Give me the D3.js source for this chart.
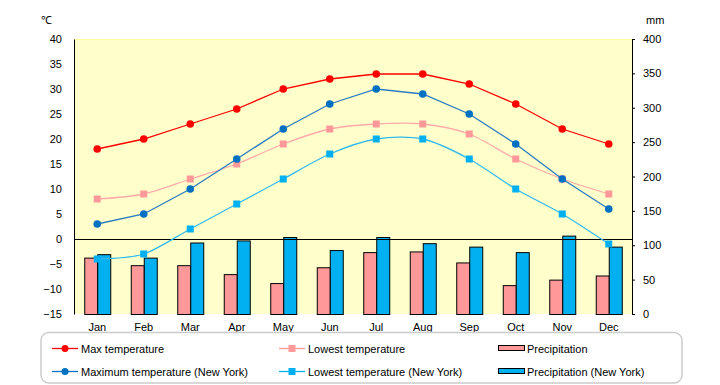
<!DOCTYPE html>
<html>
<head>
<meta charset="utf-8">
<script src="https://cdn.jsdelivr.net/npm/d3@7"></script>
<style>
  body { margin: 0; background: #fff; }
  text { font-family: "Liberation Sans", Arial, sans-serif; font-size: 11px; fill: #000; }
</style>
</head>
<body>
<div id="chart"></div>
<script>
// --------------------------------------
//  Data
// --------------------------------------

const months = ["Jan", "Feb", "Mar", "Apr", "May", "Jun", "Jul", "Aug", "Sep", "Oct", "Nov", "Dec"];

const maxTemp = [18, 20, 23, 26, 30, 32, 33, 33, 31, 27, 22, 19];
const lowTemp = [8, 9, 12, 15, 19, 22, 23, 23, 21, 16, 12, 9];
const maxTempNY = [3, 5, 10, 16, 22, 27, 30, 29, 25, 19, 12, 6];
const lowTempNY = [-4, -3, 2, 7, 12, 17, 20, 20, 16, 10, 5, -1];

const precip = [82, 71, 71, 58, 45, 68, 90, 91, 75, 42, 50, 56];
const precipNY = [87, 82, 104, 107, 112, 93, 112, 103, 98, 90, 114, 98];

const tempTicks = [-15, -10, -5, 0, 5, 10, 15, 20, 25, 30, 35, 40];
const mmTicks = [0, 50, 100, 150, 200, 250, 300, 350, 400];

// --------------------------------------
//  Canvas
// --------------------------------------

const width = 720;
const height = 385;
const plot = {left: 74, right: 632, top: 39, bottom: 314};

const svg = d3.select("#chart")
  .append("svg")
    .attr("width", width)
    .attr("height", height);

// --------------------------------------
//  Scales
// --------------------------------------

const x = d3.scaleBand()
    .domain(months)
    .range([plot.left, plot.right]);

const yT = d3.scaleLinear()
    .domain([-15, 40])
    .range([plot.bottom, plot.top]);

const yP = d3.scaleLinear()
    .domain([0, 400])
    .range([plot.bottom, plot.top]);

const cx = m => x(m) + x.bandwidth() / 2;

// plot background
svg.append("rect")
    .attr("x", plot.left)
    .attr("y", plot.top)
    .attr("width", plot.right - plot.left)
    .attr("height", plot.bottom - plot.top)
    .attr("fill", "#ffffcc");

svg.append("line")
    .attr("x1", plot.left).attr("x2", plot.right)
    .attr("y1", plot.top + 0.5).attr("y2", plot.top + 0.5)
    .attr("stroke", "#ffff99");

// --------------------------------------
//  Bars
// --------------------------------------

const barW = 13;

svg.selectAll(".bar-p")
  .data(months)
  .join("rect")
    .attr("class", "bar-p")
    .attr("x", m => cx(m) - barW + 0.5)
    .attr("y", (m, i) => yP(precip[i]) + 0.5)
    .attr("width", barW)
    .attr("height", (m, i) => plot.bottom - yP(precip[i]))
    .attr("fill", "#ff9999")
    .attr("stroke", "#000");

svg.selectAll(".bar-ny")
  .data(months)
  .join("rect")
    .attr("class", "bar-ny")
    .attr("x", m => cx(m) + 0.5)
    .attr("y", (m, i) => yP(precipNY[i]) + 0.5)
    .attr("width", barW)
    .attr("height", (m, i) => plot.bottom - yP(precipNY[i]))
    .attr("fill", "#00b0f0")
    .attr("stroke", "#000");

// zero line
svg.append("line")
    .attr("x1", plot.left).attr("x2", plot.right)
    .attr("y1", Math.round(yT(0)) + 0.5).attr("y2", Math.round(yT(0)) + 0.5)
    .attr("stroke", "#000");

// --------------------------------------
//  Axes
// --------------------------------------

svg.append("g")
    .attr("transform", `translate(${plot.left}, 0)`)
    .call(d3.axisLeft(yT).tickValues(tempTicks).tickSize(0).tickPadding(12).tickFormat(d3.format("d")))
    .call(g => g.select(".domain").attr("stroke", "#000"))
    .call(g => g.selectAll("text").attr("font-size", 11).attr("font-family", null));

svg.append("g")
    .attr("transform", `translate(${plot.right}, 0)`)
    .call(d3.axisRight(yP).tickValues(mmTicks).tickSize(3).tickPadding(8))
    .call(g => g.select(".domain").attr("stroke", "#000"))
    .call(g => g.selectAll("text").attr("font-size", 11).attr("font-family", null));

svg.append("g")
    .attr("transform", `translate(0, ${plot.bottom})`)
    .call(d3.axisBottom(x).tickSize(0).tickPadding(9))
    .call(g => g.select(".domain").remove())
    .call(g => g.selectAll("text").attr("font-size", 11).attr("font-family", null));

svg.append("text").attr("x", 41).attr("y", 24).text("℃");
svg.append("text").attr("x", 646).attr("y", 24).text("mm");

// --------------------------------------
//  Lines
// --------------------------------------

const series = [
  {values: maxTemp, color: "#ff0000", line: "#ff0000", shape: "circle", smooth: false},
  {values: lowTemp, color: "#ff9999", line: "#ffaaaa", shape: "square", smooth: true},
  {values: maxTempNY, color: "#0070c0", line: "#2a7cc0", shape: "circle", smooth: false},
  {values: lowTempNY, color: "#00b0f0", line: "#33bbee", shape: "square", smooth: true}
];

series.forEach(s => {
  const line = d3.line()
      .x((d, i) => cx(months[i]))
      .y(d => yT(d))
      .curve(s.smooth ? d3.curveCardinal.tension(0.15) : d3.curveLinear);

  svg.append("path")
      .attr("d", line(s.values))
      .attr("fill", "none")
      .attr("stroke", s.line)
      .attr("stroke-width", 1.3);

  if (s.shape === "circle") {
    svg.selectAll(null)
      .data(s.values)
      .join("circle")
        .attr("cx", (d, i) => cx(months[i]))
        .attr("cy", d => yT(d))
        .attr("r", 3.8)
        .attr("fill", s.color);
  } else {
    svg.selectAll(null)
      .data(s.values)
      .join("rect")
        .attr("x", (d, i) => cx(months[i]) - 3.5)
        .attr("y", d => yT(d) - 3.5)
        .attr("width", 7)
        .attr("height", 7)
        .attr("fill", s.color);
  }
});

// --------------------------------------
//  Legend
// --------------------------------------

svg.append("rect")
    .attr("x", 41).attr("y", 332.5)
    .attr("width", 641).attr("height", 50.5)
    .attr("rx", 8)
    .attr("fill", "#fff")
    .attr("stroke", "#cccccc")
    .attr("stroke-width", 1.5);

const legendItems = [
  {label: "Max temperature", x: 52, y: 348, type: "circle", color: "#ff0000"},
  {label: "Maximum temperature (New York)", x: 52, y: 371, type: "circle", color: "#0070c0"},
  {label: "Lowest temperature", x: 279, y: 348, type: "square", color: "#ff9999"},
  {label: "Lowest temperature (New York)", x: 279, y: 371, type: "square", color: "#00b0f0"},
  {label: "Precipitation", x: 498, y: 348, type: "bar", color: "#ff9999"},
  {label: "Precipitation (New York)", x: 498, y: 371, type: "bar", color: "#00b0f0"}
];

legendItems.forEach(d => {
  const g = svg.append("g");
  if (d.type === "bar") {
    g.append("rect")
        .attr("x", d.x + 0.5).attr("y", d.y - 2.5)
        .attr("width", 26).attr("height", 5)
        .attr("fill", d.color).attr("stroke", "#000");
  } else {
    g.append("line")
        .attr("x1", d.x).attr("x2", d.x + 26)
        .attr("y1", d.y + 0.5).attr("y2", d.y + 0.5)
        .attr("stroke", d.color).attr("stroke-width", 1.3);
    if (d.type === "circle") {
      g.append("circle").attr("cx", d.x + 13).attr("cy", d.y + 0.5).attr("r", 3.5).attr("fill", d.color);
    } else {
      g.append("rect").attr("x", d.x + 9.5).attr("y", d.y - 3).attr("width", 7).attr("height", 7).attr("fill", d.color);
    }
  }
  g.append("text")
      .attr("x", d.x + 29)
      .attr("y", d.y + 4.5)
      .text(d.label);
});
</script>
</body>
</html>
